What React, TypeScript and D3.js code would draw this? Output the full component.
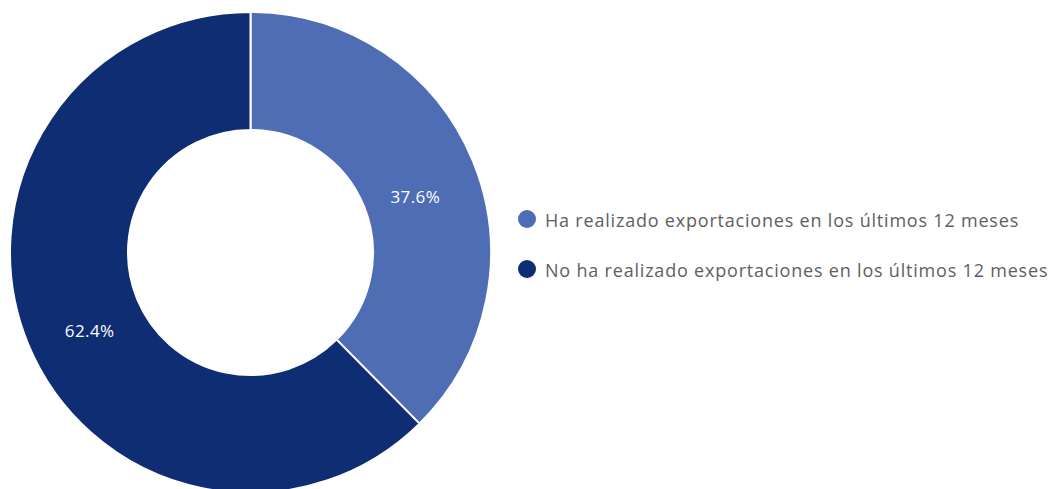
import React from "react";
import * as d3 from "d3";

const categories = [
  "Ha realizado exportaciones en los últimos 12 meses",
  "No ha realizado exportaciones en los últimos 12 meses",
];
const values = [37.6, 62.4];
const colors = ["#4E6DB4", "#0F2D72"];

const W = 1049;
const H = 489;
const cx = 250.5;
const cy = 252.5;
const outerR = 240.5;
const innerR = 122.5;

export default function App() {
  const pie = d3.pie<number>().sort(null).value((d) => d);
  const arcs = pie(values);
  const arcGen = d3.arc<d3.PieArcDatum<number>>().innerRadius(innerR).outerRadius(outerR);
  const labelArc = d3.arc<d3.PieArcDatum<number>>().innerRadius(176).outerRadius(176);
  const font = "'Open Sans', sans-serif";
  return (
    <svg width={W} height={H} style={{ position: "absolute", left: 0, top: 0 }}>
      <g transform={`translate(${cx},${cy})`}>
        {arcs.map((a, i) => (
          <path key={i} d={arcGen(a) || ""} fill={colors[i]} stroke="#fff" strokeWidth={2} />
        ))}
        {arcs.map((a, i) => {
          const [x, y] = labelArc.centroid(a);
          return (
            <text
              key={i}
              x={x + 2}
              y={y + 11}
              textAnchor="middle"
              dominantBaseline="central"
              fill="#fff"
              fontFamily={font}
              fontSize={17}
              letterSpacing={0.4}
            >
              {values[i].toFixed(1)}%
            </text>
          );
        })}
      </g>
      {categories.map((c, i) => (
        <g key={i} transform={`translate(527,${219 + i * 50})`}>
          <circle r={9} fill={colors[i]} />
          <text
            x={18}
            y={1}
            dominantBaseline="central"
            fill="#606060"
            fontFamily={font}
            fontSize={18}
            letterSpacing={0.8}
          >
            {c}
          </text>
        </g>
      ))}
    </svg>
  );
}
